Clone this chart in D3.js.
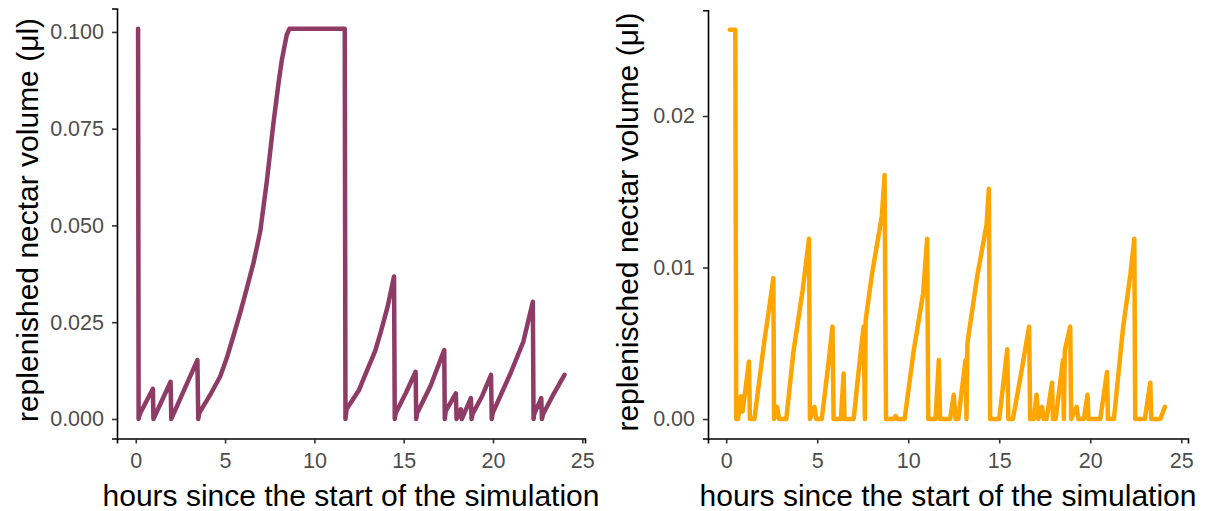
<!DOCTYPE html>
<html>
<head>
<meta charset="utf-8">
<script src="https://cdn.jsdelivr.net/npm/d3@7"></script>
<style>
  body { margin: 0; background: #fff; }
  svg { display: block; font-family: "Liberation Sans", Arial, sans-serif; }
</style>
</head>
<body>
<script>
// left panel: replenished nectar volume
var leftHours  = [0.13, 0.16, 0.22, 0.96, 0.99, 1.95, 1.99, 3.45, 3.5, 3.55, 4.2, 4.72, 5.1, 5.47, 5.85, 6.22, 6.6, 6.97, 7.34, 7.71, 8.0, 8.18, 8.45, 8.6,
                  11.7, 11.74, 11.8, 12.5, 12.96, 13.4, 13.7, 14.1, 14.46, 14.5, 14.55, 15.1, 15.67, 15.7, 15.75, 16.5, 17.27, 17.3, 17.35, 17.92, 17.96,
                  18.2, 18.25, 18.35, 18.76, 18.8, 18.85, 19.4, 19.89, 19.93, 19.98, 21.0, 21.7, 22.23, 22.27, 22.3, 22.7, 22.74, 22.8, 23.4, 24.0];
var leftVolume = [0.1008, 0, 0.0012, 0.0078, 0, 0.0096, 0, 0.0152, 0, 0.0015, 0.0065, 0.0109, 0.0158, 0.0215, 0.0275, 0.0338, 0.0405, 0.0485, 0.0615, 0.0765, 0.087, 0.0928, 0.0992, 0.1008,
                  0.1008, 0, 0.0025, 0.0075, 0.0127, 0.0175, 0.0222, 0.029, 0.0368, 0, 0.0015, 0.0065, 0.0122, 0, 0.0015, 0.0085, 0.0178, 0, 0.002, 0.0066, 0,
                  0.0025, 0, 0.001, 0.0054, 0, 0.0012, 0.006, 0.0114, 0, 0.0015, 0.012, 0.02, 0.0303, 0, 0.0012, 0.0054, 0, 0.0012, 0.0065, 0.0114];

// right panel: replenisched nectar volume
var rightHours  = [0.2, 0.5, 0.55, 0.65, 0.8, 0.9, 1.25, 1.3, 1.55, 2.1, 2.3, 2.59, 2.63, 2.8, 2.9, 3.3, 3.7, 4.2, 4.55, 4.6, 4.85, 4.95, 5.25, 5.6, 5.84, 5.9,
                   6.3, 6.45, 6.5, 7.0, 7.35, 7.55, 7.62, 7.66, 8.0, 8.55, 8.7, 8.78, 9.2, 9.3, 9.4, 9.8, 10.3, 10.82, 11.04, 11.1, 11.5, 11.68, 11.75,
                   12.3, 12.5, 12.6, 12.75, 13.15, 13.2, 13.25, 13.8, 14.3, 14.43, 14.5, 15.0, 15.44, 15.5, 15.75, 16.2, 16.64, 16.7, 16.9, 17.05, 17.15,
                   17.35, 17.45, 17.6, 17.9, 17.95, 18.1, 18.5, 18.55, 18.6, 18.9, 18.95, 19.25, 19.35, 19.65, 19.85, 19.9, 20.55, 20.92, 20.97, 21.3,
                   21.8, 22.2, 22.42, 22.47, 23.0, 23.3, 23.35, 23.85, 24.1];
var rightVolume = [0.0257, 0.0257, 0, 0, 0.0015, 0.0005, 0.0038, 0, 0, 0.0052, 0.0068, 0.0093, 0, 0.0008, 0, 0, 0.0045, 0.0085, 0.0119, 0, 0.0008, 0, 0, 0.0035, 0.0061, 0,
                   0, 0.003, 0, 0, 0.004, 0.0061, 0, 0.0065, 0.0095, 0.0134, 0.0161, 0, 0, 0.0002, 0, 0, 0.0045, 0.0083, 0.0119, 0, 0, 0.0039, 0,
                   0, 0.0016, 0, 0, 0.0039, 0, 0.005, 0.0095, 0.0128, 0.0152, 0, 0, 0.0046, 0, 0, 0.003, 0.0061, 0, 0, 0.0016, 0,
                   0.0008, 0, 0, 0.0024, 0, 0, 0.0039, 0, 0.0045, 0.0061, 0, 0.0008, 0, 0, 0.0016, 0, 0, 0.0031, 0, 0,
                   0.006, 0.0095, 0.0119, 0, 0, 0.0024, 0, 0, 0.0008];

var xTicks = [0, 5, 10, 15, 20, 25];
var leftYTicks = [0, 0.025, 0.05, 0.075, 0.1];
var rightYTicks = [0, 0.01, 0.02];

var svg = d3.select("body").append("svg")
    .attr("width", 1206)
    .attr("height", 511);

function panel(o) {
  var x = d3.scaleLinear().domain(o.xDomain).range([o.left, o.right]);
  var y = d3.scaleLinear().domain(o.yDomain).range([o.bottom, o.top]);
  var pts = o.hours.map(function(h, i) { return [h, o.vol[i]]; });

  // x axis
  var gx = svg.append("g")
      .attr("transform", "translate(0," + o.bottom + ")")
      .call(d3.axisBottom(x).tickValues(xTicks).tickSize(5).tickPadding(9).tickFormat(d3.format("d")));
  // y axis
  var gy = svg.append("g")
      .attr("transform", "translate(" + o.left + ",0)")
      .call(d3.axisLeft(y).tickValues(o.yTicks).tickSize(5).tickPadding(8).tickFormat(d3.format(o.yFmt)));

  [gx, gy].forEach(function(g) {
    g.select(".domain").attr("stroke", "#000").attr("stroke-width", 1.6);
    g.selectAll(".tick line").attr("stroke", "#333").attr("stroke-width", 1.6);
    g.selectAll(".tick text")
      .attr("fill", "#4d4d4d")
      .style("font-size", "21.5px")
      .style("font-family", "'Liberation Sans', Arial, sans-serif");
  });

  svg.append("path")
      .datum(pts)
      .attr("fill", "none")
      .attr("stroke", o.color)
      .attr("stroke-width", 4.5)
      .attr("stroke-linejoin", "round")
      .attr("stroke-linecap", "round")
      .attr("d", d3.line().x(function(d) { return x(d[0]); }).y(function(d) { return y(d[1]); }));

  // axis titles
  svg.append("text")
      .attr("x", (o.left + o.right) / 2)
      .attr("y", 506)
      .attr("text-anchor", "middle")
      .style("font-size", "30px")
      .attr("fill", "#000")
      .text("hours since the start of the simulation");

  svg.append("text")
      .attr("transform", "translate(" + o.titleX + "," + o.titleY + ") rotate(-90)")
      .attr("text-anchor", "middle")
      .style("font-size", "30px")
      .attr("fill", "#000")
      .text(o.yTitle);
}

panel({
  hours: leftHours, vol: leftVolume, color: "#8e3b66",
  xDomain: [-1.05, 25.15], yDomain: [-0.00505, 0.10605],
  left: 117, right: 585, top: 8.5, bottom: 438.5,
  yTicks: leftYTicks, yFmt: ".3f",
  titleX: 38, titleY: 220, yTitle: "replenished nectar volume (\u03bcl)"
});

panel({
  hours: rightHours, vol: rightVolume, color: "#ffa500",
  xDomain: [-1.0, 25.37], yDomain: [-0.001285, 0.026985],
  left: 708, right: 1188, top: 10.2, bottom: 438.5,
  yTicks: rightYTicks, yFmt: ".2f",
  titleX: 638, titleY: 222, yTitle: "replenisched nectar volume (\u03bcl)"
});
</script>
</body>
</html>
